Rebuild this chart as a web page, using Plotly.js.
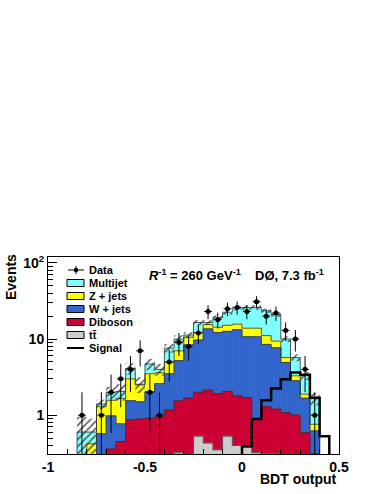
<!DOCTYPE html>
<html>
<head>
<meta charset="utf-8">
<script src="https://cdn.plot.ly/plotly-3.0.1.min.js"></script>
<style>html,body{margin:0;padding:0;background:#fff}#plot{width:382px;height:494px}</style>
</head>
<body>
<div id="plot"></div>
<script>
// BDT output bins (width 0.05)
var binEdges = [-0.85,-0.8,-0.75,-0.7,-0.65,-0.6,-0.55,-0.5,-0.45,-0.4,-0.35,-0.3,-0.25,-0.2,-0.15,-0.1,-0.05,0,0.05,0.1,0.15,0.2,0.25,0.3,0.35,0.4,0.45];
var binCenters = [-0.825,-0.775,-0.725,-0.675,-0.625,-0.575,-0.525,-0.475,-0.425,-0.375,-0.325,-0.275,-0.225,-0.175,-0.125,-0.075,-0.025,0.025,0.075,0.125,0.175,0.225,0.275,0.325,0.375,0.425];

var dataCounts = [1,0,1,2,3,4,7,2,1,5,9,8,12,23,18,25,26,23,31,20,22,13,10,4,1,0];

// backgrounds, per process (stacked: ttbar, diboson, W, Z, multijet)
var ttbar    = [0,0,0,0,0,0,0,0,0,0,0.32,0.10,0.53,0.43,0.35,0.53,0.40,0.38,0.32,0.31,0.31,0.20,0.10,0.05,0,0];
var diboson  = [0,0,0,0.36,0.45,0.87,0.89,0.91,0.95,1.17,1.22,1.58,1.47,1.70,1.57,1.52,1.39,1.32,0.56,0.98,0.89,0.88,0.90,0.54,0.31,0];
var wjets    = [0,0,0.57,0.62,0.32,0.68,0.61,1.13,1.65,2.33,3.66,6.72,7.70,11.47,10.28,10.55,11.51,9.00,9.82,7.21,6.50,3.84,1.83,1.08,0.31,0];
var zjets    = [0,0.42,0.72,0.59,0.88,1.45,1.00,1.46,1.00,1.50,1.80,2.20,2.50,1.90,2.10,2.60,2.40,3.20,3.20,2.60,1.70,0.81,0.46,0.22,0.14,0];
var multijet = [0.60,0.18,0.11,0.43,0.40,1.10,0.05,1.20,0.40,2.60,3.00,0.70,4.30,1.00,4.70,7.30,9.80,12.10,12.10,12.40,11.60,4.27,2.41,1.41,0.89,0];
var systUnc  = [0.35,0.30,0.20,0.35,0.50,0.70,0.60,0.80,0.70,1.00,1.20,1.00,1.30,1.20,1.40,1.60,1.80,1.80,1.80,1.60,1.50,0.90,0.60,0.40,0.30,0];

var signal   = [0,0,0,0,0,0,0,0,0,0,0,0,0,0,0,0,0,0.39,0.89,1.57,2.24,2.97,3.63,3.39,1.70,0.53];

var legendLabels = ['Data','Multijet','Z + jets','W + jets','Diboson','tt\u0304','Signal'];

var colMJ = '#80ffff', colZ = '#ffff00', colW = '#3366cc', colDB = '#cc0033', colTT = '#cccccc';
var FONT = 'Liberation Sans, Arial, Helvetica, sans-serif';
var FLOOR = 0.01;

// plot box in pixels
var L = 48, T = 257, PW = 291, PH = 197;
function px(x) { return (x - L) / PW; }
function py(y) { return (T + PH - y) / PH; }

function addArr(a, b) { return a.map(function (v, i) { return v + b[i]; }); }
var cumTT = ttbar.slice();
var cumDB = addArr(cumTT, diboson);
var cumW = addArr(cumDB, wjets);
var cumZ = addArr(cumW, zjets);
var cumMJ = addArr(cumZ, multijet);

function stepX() {
    var x = [binEdges[0]];
    for (var i = 0; i < binEdges.length; i++) x.push(binEdges[i]);
    return x;
}
function stepY(vals) {
    var y = [FLOOR];
    for (var i = 0; i < vals.length; i++) y.push(Math.max(vals[i], FLOOR));
    y.push(FLOOR);
    return y;
}

function fillBar(vals, color) {
    return {
        type: 'bar', x: binCenters, y: vals, width: 0.05,
        marker: {color: color, line: {width: 0.8, color: color}},
        hoverinfo: 'skip', showlegend: false
    };
}
function outline(vals, color, w) {
    return {
        type: 'scatter', mode: 'lines', x: stepX(), y: stepY(vals),
        line: {shape: 'hv', color: color, width: w},
        hoverinfo: 'skip', showlegend: false
    };
}

var hatchBase = cumMJ.map(function (v, i) { return Math.max(v - systUnc[i], FLOOR); });
var hatchLen = cumMJ.map(function (v, i) { return v + systUnc[i] - hatchBase[i]; });
var hatch = {
    type: 'bar', x: binCenters, base: hatchBase, y: hatchLen, width: 0.05,
    marker: {
        color: 'rgba(0,0,0,0)', line: {width: 0},
        pattern: {shape: '/', fgcolor: '#555555', bgcolor: 'rgba(0,0,0,0)', size: 5, solidity: 0.3}
    },
    hoverinfo: 'skip', showlegend: false
};

var dX = [], dY = [], dErr = [], dErrM = [];
for (var i = 0; i < dataCounts.length; i++) {
    if (dataCounts[i] > 0) {
        dX.push(binCenters[i]);
        dY.push(dataCounts[i]);
        dErr.push(Math.sqrt(dataCounts[i]));
        dErrM.push(Math.min(Math.sqrt(dataCounts[i]), dataCounts[i] - 0.01));
    }
}
var dataTrace = {
    type: 'scatter', mode: 'markers', x: dX, y: dY,
    marker: {color: '#000', size: 5},
    error_y: {type: 'data', symmetric: false, array: dErr, arrayminus: dErrM, color: '#000', thickness: 1, width: 0},
    error_x: {type: 'constant', value: 0.02, color: '#000', thickness: 1, width: 0},
    hoverinfo: 'skip', showlegend: false
};

var traces = [
    fillBar(cumMJ, colMJ), fillBar(cumZ, colZ), fillBar(cumW, colW), fillBar(cumDB, colDB), fillBar(cumTT, colTT),
    hatch,
    outline(cumMJ, '#333', 0.8), outline(cumZ, '#333', 0.8), outline(cumW, '#333', 0.8),
    outline(cumDB, '#333', 0.8), outline(cumTT, '#333', 0.8),
    outline(signal, '#000', 2.5),
    dataTrace
];

// legend drawn by hand (ROOT style, tight rows)
var shapes = [], annotations = [];
var legColors = [null, colMJ, colZ, colW, colDB, colTT, null];
var row0 = 270, rowStep = 13;
for (var k = 0; k < legendLabels.length; k++) {
    var yy = row0 + k * rowStep;
    annotations.push({
        xref: 'paper', yref: 'paper', x: px(87), y: py(yy), xanchor: 'left', yanchor: 'middle',
        text: legendLabels[k], showarrow: false,
        font: {family: FONT, size: 11, weight: 'bold', color: '#000'}
    });
    if (legColors[k]) {
        shapes.push({type: 'rect', xref: 'paper', yref: 'paper', x0: px(67), x1: px(84), y0: py(yy + 3.5), y1: py(yy - 3.5),
            fillcolor: legColors[k], line: {color: '#000', width: 1}});
    }
}
// Data symbol
shapes.push({type: 'line', xref: 'paper', yref: 'paper', x0: px(68), x1: px(84), y0: py(row0), y1: py(row0), line: {color: '#000', width: 1}});
shapes.push({type: 'line', xref: 'paper', yref: 'paper', x0: px(76), x1: px(76), y0: py(row0 - 4), y1: py(row0 + 4), line: {color: '#000', width: 1}});
shapes.push({type: 'circle', xref: 'paper', yref: 'paper', x0: px(73.8), x1: px(78.2), y0: py(row0 + 2.2), y1: py(row0 - 2.2), fillcolor: '#000', line: {color: '#000', width: 0}});
// Signal symbol
var ys = row0 + 6 * rowStep;
shapes.push({type: 'line', xref: 'paper', yref: 'paper', x0: px(67), x1: px(84), y0: py(ys), y1: py(ys), line: {color: '#000', width: 2}});

annotations.push({
    xref: 'paper', yref: 'paper', x: px(147), y: py(275), xanchor: 'left', yanchor: 'middle', showarrow: false,
    text: '<i>R</i><sup>-1</sup> = 260 GeV<sup>-1</sup>', font: {family: FONT, size: 13, weight: 'bold', color: '#000'}
});
annotations.push({
    xref: 'paper', yref: 'paper', x: px(253), y: py(275), xanchor: 'left', yanchor: 'middle', showarrow: false,
    text: 'DØ, 7.3 fb<sup>-1</sup>', font: {family: FONT, size: 13, weight: 'bold', color: '#000'}
});
annotations.push({
    xref: 'paper', yref: 'paper', x: 1, y: py(479), xanchor: 'right', yanchor: 'middle', showarrow: false,
    text: 'BDT output', font: {family: FONT, size: 14, weight: 'bold', color: '#000'}
});
annotations.push({
    xref: 'paper', yref: 'paper', x: px(11), y: py(277), xanchor: 'center', yanchor: 'middle', showarrow: false,
    textangle: -90, text: 'Events', font: {family: FONT, size: 14, weight: 'bold', color: '#000'}
});

var layout = {
    width: 382, height: 494,
    margin: {l: L, r: 382 - L - PW, t: T, b: 494 - T - PH},
    paper_bgcolor: '#fff', plot_bgcolor: '#fff',
    barmode: 'overlay', showlegend: false,
    xaxis: {
        range: [-1, 0.5], tickmode: 'array', tickvals: [-1, -0.5, 0, 0.5], ticktext: ['-1', '-0.5', '0', '0.5'],
        ticks: 'inside', ticklen: 9, tickcolor: '#000', tickwidth: 1,
        minor: {ticks: 'inside', ticklen: 5, tickcolor: '#000', tickmode: 'linear', tick0: 0, dtick: 0.1},
        showline: true, linecolor: '#000', linewidth: 1, mirror: true,
        showgrid: false, zeroline: false,
        tickfont: {family: FONT, size: 14, weight: 'bold', color: '#000'}
    },
    yaxis: {
        type: 'log', range: [-0.51, 2.078],
        tickmode: 'array', tickvals: [1, 10, 100], ticktext: ['1', '10', '10<sup>2</sup>'],
        ticks: 'inside', ticklen: 9, tickcolor: '#000', tickwidth: 1,
        minor: {ticks: 'inside', ticklen: 5, tickcolor: '#000', tickmode: 'array',
            tickvals: [0.4, 0.5, 0.6, 0.7, 0.8, 0.9, 2, 3, 4, 5, 6, 7, 8, 9, 20, 30, 40, 50, 60, 70, 80, 90]},
        showline: true, linecolor: '#000', linewidth: 1, mirror: true,
        showgrid: false, zeroline: false,
        tickfont: {family: FONT, size: 14, weight: 'bold', color: '#000'}
    },
    shapes: shapes,
    annotations: annotations
};

Plotly.newPlot('plot', traces, layout, {displayModeBar: false, staticPlot: true});
</script>
</body>
</html>
